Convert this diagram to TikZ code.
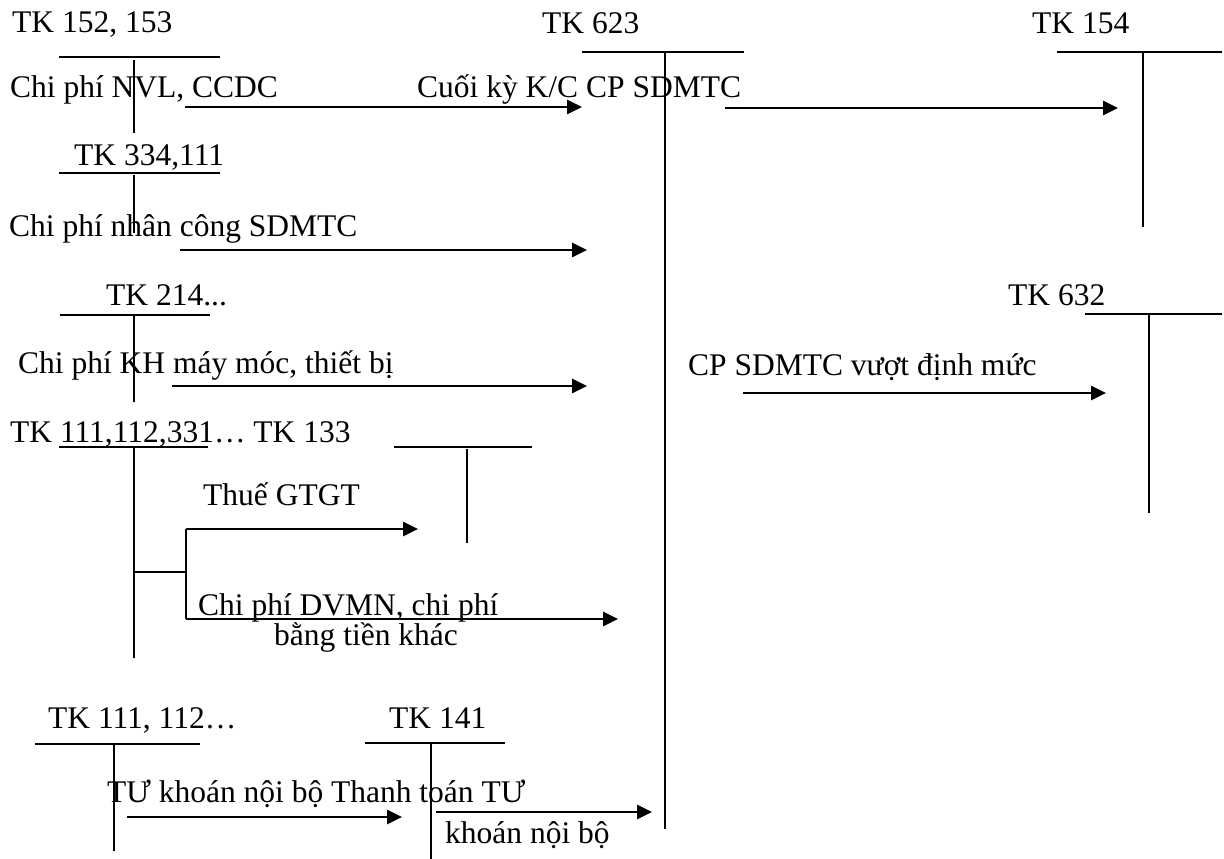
\documentclass[tikz,border=0pt]{standalone}
\usepackage{fontspec}
\setmainfont{Liberation Serif}
\usetikzlibrary{arrows.meta}
\tikzset{
  tline/.style={line width=1.8pt},
  flow/.style={line width=2.8pt, -{Triangle[length=15pt,width=14pt]}},
  lbl/.style={anchor=base west, inner sep=0pt, font=\fontsize{31.5}{36}\selectfont}
}
\begin{document}
\begin{tikzpicture}[x=1pt,y=-1pt]
\useasboundingbox (0,0) rectangle (1224,859);

% ---- account labels and texts ----
\node[lbl] (k152) at (12,33) {TK 152, 153};
\node[lbl] (k623) at (542,34) {TK 623};
\node[lbl] (k154) at (1032,34) {TK 154};
\node[lbl] (tNVL) at (10,98) {Chi phí NVL, CCDC};
\node[lbl] (tKC) at (417,98) {Cuối kỳ K/C CP SDMTC};
\node[lbl] (k334) at (74,165) {TK 334,111};
\node[lbl] (tNC) at (9,236) {Chi phí nhân công SDMTC};
\node[lbl] (k214) at (106,305) {TK 214...};
\node[lbl] (k632) at (1008,305) {TK 632};
\node[lbl] (tKH) at (18,373) {Chi phí KH máy móc, thiết bị};
\node[lbl] (tVDM) at (688,375) {CP SDMTC vượt định mức};
\node[lbl] (k111) at (10,442) {TK 111,112,331… TK 133};
\node[lbl] (tVAT) at (203,505) {Thuế GTGT};
\node[lbl] (tDV1) at (198,615) {Chi phí DVMN, chi phí};
\node[lbl] (tDV2) at (274,645) {bằng tiền khác};
\node[lbl] (k1112) at (48,728) {TK 111, 112…};
\node[lbl] (k141) at (389,728) {TK 141};
\node[lbl] (tTU1) at (107,802) {TƯ khoán nội bộ Thanh toán TƯ};
\node[lbl] (tTU2) at (445,843) {khoán nội bộ};

% ---- T-accounts ----
% TK 152, 153
\draw[tline] (59,57) -- (220,57);  \draw[tline] (134,60) -- (134,133);
% TK 334,111
\draw[tline] (59,173) -- (220,173); \draw[tline] (134,175) -- (134,233);
% TK 214
\draw[tline] (60,315) -- (210,315); \draw[tline] (134,316) -- (134,402);
% TK 111,112,331
\draw[tline] (59,447) -- (208,447); \draw[tline] (134,447) -- (134,658);
% TK 133
\draw[tline] (394,447) -- (532,447); \draw[tline] (467,449) -- (467,543);
% TK 623
\draw[tline] (582,52) -- (744,52); \draw[tline] (665,52) -- (665,829);
% TK 154
\draw[tline] (1057,52) -- (1222,52); \draw[tline] (1143,52) -- (1143,227);
% TK 632
\draw[tline] (1085,314) -- (1222,314); \draw[tline] (1149,314) -- (1149,513);
% TK 111, 112...
\draw[tline] (35,744) -- (200,744); \draw[tline] (114,744) -- (114,851);
% TK 141
\draw[tline] (365,743) -- (505,743); \draw[tline] (431,743) -- (431,859);

% ---- arrow end points ----
\coordinate (a1s) at (185,107);  \coordinate (a1e) at (582,107);
\coordinate (a2s) at (725,108);  \coordinate (a2e) at (1118,108);
\coordinate (a3s) at (180,250);  \coordinate (a3e) at (587,250);
\coordinate (a4s) at (172,386);  \coordinate (a4e) at (587,386);
\coordinate (a5s) at (743,393);  \coordinate (a5e) at (1106,393);
\coordinate (brL) at (134,572);  \coordinate (brM) at (186,572);
\coordinate (brT) at (186,529);  \coordinate (brB) at (186,619);
\coordinate (a6e) at (418,529);  \coordinate (a7e) at (618,619);
\coordinate (a8s) at (127,817);  \coordinate (a8e) at (402,817);
\coordinate (a9s) at (436,812);  \coordinate (a9e) at (652,812);

% ---- flows ----
\draw[flow] (a1s) -- (a1e);
\draw[flow] (a2s) -- (a2e);
\draw[flow] (a3s) -- (a3e);
\draw[flow] (a4s) -- (a4e);
\draw[flow] (a5s) -- (a5e);
\draw[tline] (brL) -- (brM);
\draw[tline] (brT) -- (brB);
\draw[flow] (brT) -- (a6e);
\draw[flow] (brB) -- (a7e);
\draw[flow] (a8s) -- (a8e);
\draw[flow] (a9s) -- (a9e);
\end{tikzpicture}
\end{document}
